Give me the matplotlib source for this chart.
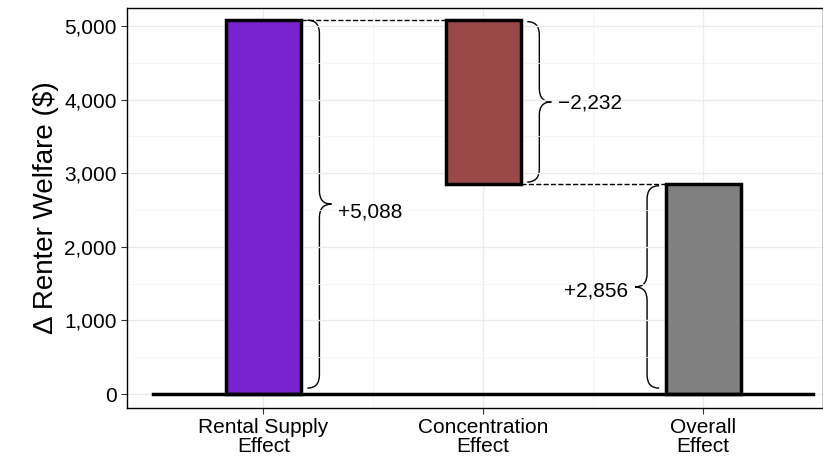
import matplotlib.pyplot as plt
import numpy as np
from matplotlib.path import Path
from matplotlib.patches import PathPatch

plt.rcParams['font.family'] = ['Liberation Sans', 'DejaVu Sans']

categories = ["Rental Supply\nEffect", "Concentration\nEffect", "Overall\nEffect"]
effects = [5088, -2232, 2856]
labels = ["+5,088", "\u22122,232", "+2,856"]
colors = ["#7B22D0", "#9A4848", "#808080"]


def brace(ax, x, y0, y1, w, h):
    # curly brace from y0 to y1 at x, tip pointing in direction of sign(w)
    ym = (y0 + y1) / 2
    verts = [(x, y0), (x + w * 0.5, y0), (x + w * 0.5, y0 + h),
             (x + w * 0.5, ym - h), (x + w * 0.5, ym), (x + w, ym),
             (x + w * 0.5, ym), (x + w * 0.5, ym + h),
             (x + w * 0.5, y1 - h), (x + w * 0.5, y1), (x, y1)]
    codes = [Path.MOVETO, Path.CURVE3, Path.CURVE3, Path.LINETO,
             Path.CURVE3, Path.CURVE3, Path.CURVE3, Path.CURVE3,
             Path.LINETO, Path.CURVE3, Path.CURVE3]
    ax.add_patch(PathPatch(Path(verts, codes), fill=False, lw=1.0, color="black"))


fig = plt.figure(figsize=(8.23, 4.71), dpi=100)
ax = fig.add_axes([127 / 823, 63 / 471, 696 / 823, 400 / 471])

x = np.arange(1, 4)
bottoms = [0, effects[0] + effects[1], 0]
heights = [effects[0], -effects[1], effects[2]]
ax.bar(x, heights, bottom=bottoms, width=0.34, color=colors,
       edgecolor="black", linewidth=2.5, zorder=3)

ax.axhline(0, xmin=(0.5 - 0.38) / 3.165, xmax=(3.5 - 0.38) / 3.165,
           color="black", lw=2.5, zorder=4)
ax.plot([1.17, 1.83], [effects[0]] * 2, ls="--", color="black", lw=1, zorder=2)
ax.plot([2.17, 2.83], [effects[0] + effects[1]] * 2, ls="--", color="black", lw=1, zorder=2)

h = 180
brace(ax, 1.2, 80, 5080, 0.11, h)
brace(ax, 2.2, 2880, 5060, 0.11, h)
brace(ax, 2.8, 80, 2830, -0.11, h)
ax.text(1.34, 2470, labels[0], fontsize=15, va="center", ha="left")
ax.text(2.34, 3954, labels[1], fontsize=15, va="center", ha="left")
ax.text(2.66, 1400, labels[2], fontsize=15, va="center", ha="right")

ax.set_xlim(0.38, 3.545)
ax.set_ylim(-190, 5245)
ax.set_xticks(x)
ax.set_xticklabels(categories, fontsize=15, linespacing=1.0)
ax.set_yticks([0, 1000, 2000, 3000, 4000, 5000])
ax.set_yticklabels(["0", "1,000", "2,000", "3,000", "4,000", "5,000"], fontsize=15)
ax.set_yticks(np.arange(500, 5001, 1000), minor=True)
ax.set_xticks([1.5, 2.5], minor=True)
ax.grid(True, which="major", color="#EBEBEB", lw=1, zorder=0)
ax.grid(True, which="minor", color="#F3F3F3", lw=0.6, zorder=0)
ax.tick_params(which="minor", length=0)
ax.tick_params(which="major", length=4, color="#333333")
ax.set_ylabel("\u0394 Renter Welfare ($)", fontsize=20)
for s in ax.spines.values():
    s.set_color("black")
    s.set_linewidth(1)

fig.savefig("out.png", dpi=100)
